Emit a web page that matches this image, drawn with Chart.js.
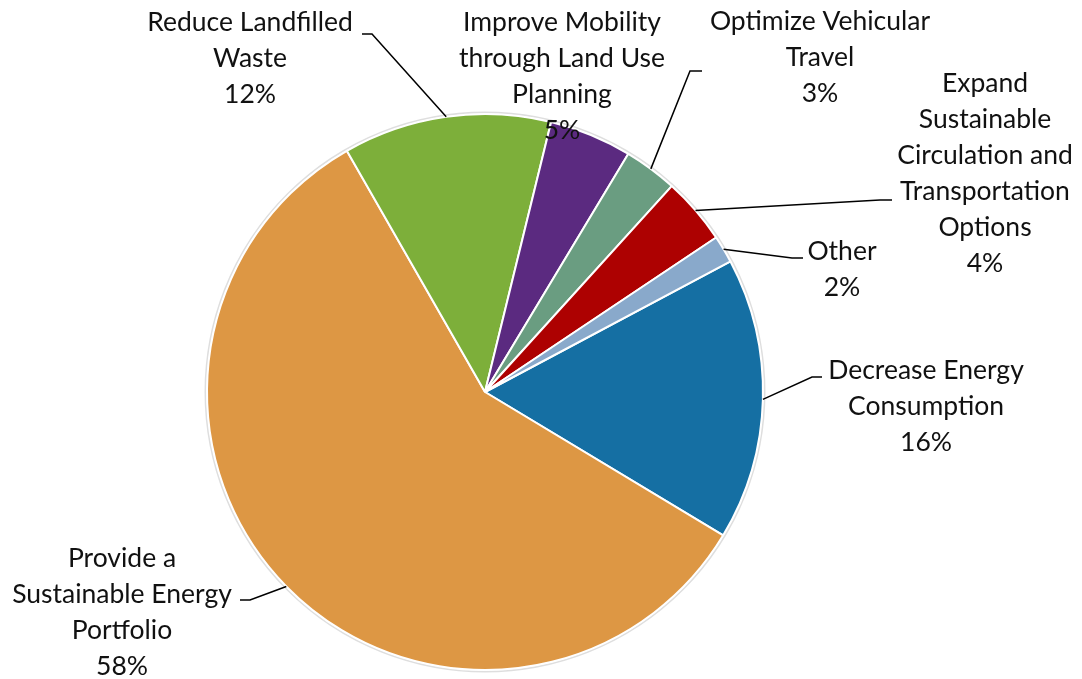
<!DOCTYPE html>
<html>
<head>
<meta charset="utf-8">
<script src="https://cdn.jsdelivr.net/npm/chart.js@4.4.1/dist/chart.umd.min.js"></script>
<style>
  body { margin: 0; background: #fff; }
  #wrap { width: 1082px; height: 679px; position: relative; }
</style>
</head>
<body>
<div id="wrap"><canvas id="pie"></canvas></div>
<script>
// slice names (each label line is a separate string)
const categories = [
    ['Decrease Energy', 'Consumption'],
    ['Provide a', 'Sustainable Energy', 'Portfolio'],
    ['Reduce Landfilled', 'Waste'],
    ['Improve Mobility', 'through Land Use', 'Planning'],
    ['Optimize Vehicular', 'Travel'],
    ['Expand', 'Sustainable', 'Circulation and', 'Transportation', 'Options'],
    ['Other']
];
// share of total, percent
const shares = [16.4, 58.1, 12.1, 4.8, 3.1, 3.9, 1.6];
const sliceColors = ['#156FA3', '#DD9744', '#7DAF3A', '#5B2A80', '#6A9D81', '#AD0101', '#89A9CB'];

// where each data label sits + its leader elbow (null = no leader)
const labelLayout = [
    { x: 926, y: 370, elbow: [812, 377], end: [822, 377] },
    { x: 122, y: 558, elbow: [250, 600], end: [240, 600] },
    { x: 250, y: 22, elbow: [372, 34], end: [362, 34] },
    { x: 562, y: 22, elbow: null, end: null },
    { x: 820, y: 21, elbow: [690, 71], end: [702, 71] },
    { x: 985, y: 83, elbow: [880, 200], end: [892, 200] },
    { x: 842, y: 251, elbow: [792, 258], end: [803, 258] }
];

const FONT = '26.5px Lato';
const LINE_H = 36;

// soft grey rim like the excel shadow
const rimPlugin = {
    id: 'rim',
    beforeDatasetsDraw(chart) {
        const arc = chart.getDatasetMeta(0).data[0];
        if (!arc) return;
        const { x, y, outerRadius } = arc.getProps(['x', 'y', 'outerRadius'], true);
        const ctx = chart.ctx;
        ctx.save();
        ctx.beginPath();
        ctx.arc(x, y, outerRadius + 1.5, 0, Math.PI * 2);
        ctx.strokeStyle = 'rgba(0,0,0,0.13)';
        ctx.lineWidth = 2;
        ctx.stroke();
        ctx.restore();
    }
};

// data labels with leader lines
const labelPlugin = {
    id: 'pieLabels',
    afterDatasetsDraw(chart) {
        const ctx = chart.ctx;
        const meta = chart.getDatasetMeta(0);
        const total = shares.reduce((a, b) => a + b, 0);
        ctx.save();
        meta.data.forEach((arc, i) => {
            const p = arc.getProps(['x', 'y', 'startAngle', 'endAngle', 'outerRadius'], true);
            const mid = (p.startAngle + p.endAngle) / 2;
            const ex = p.x + Math.cos(mid) * p.outerRadius;
            const ey = p.y + Math.sin(mid) * p.outerRadius;
            const lay = labelLayout[i];

            if (lay.elbow) {
                ctx.beginPath();
                ctx.moveTo(ex, ey);
                ctx.lineTo(lay.elbow[0], lay.elbow[1]);
                ctx.lineTo(lay.end[0], lay.end[1]);
                ctx.strokeStyle = '#000';
                ctx.lineWidth = 1.5;
                ctx.stroke();
            }

            const lines = categories[i].concat([Math.round(shares[i] / total * 100) + '%']);
            ctx.font = FONT;
            ctx.fillStyle = '#111';
            ctx.textAlign = 'center';
            ctx.textBaseline = 'middle';
            lines.forEach((t, k) => {
                ctx.fillText(t, lay.x, lay.y + k * LINE_H);
            });
        });
        ctx.restore();
    }
};

new Chart(document.getElementById('pie'), {
    type: 'pie',
    data: {
        labels: categories.map(c => c.join(' ')),
        datasets: [{
            data: shares,
            backgroundColor: sliceColors,
            borderColor: '#ffffff',
            borderWidth: 2
        }]
    },
    options: {
        responsive: true,
        maintainAspectRatio: false,
        animation: false,
        rotation: 62,
        layout: { padding: { left: 206, right: 318, top: 113, bottom: 8 } },
        plugins: {
            legend: { display: false },
            tooltip: { enabled: false }
        }
    },
    plugins: [rimPlugin, labelPlugin]
});
</script>
</body>
</html>
